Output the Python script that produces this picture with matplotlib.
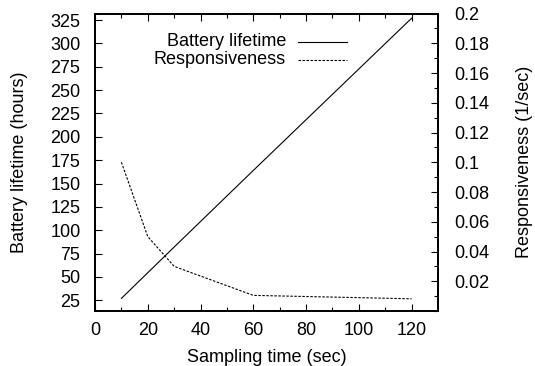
"""Battery lifetime and responsiveness vs sampling time (gnuplot-style, two y axes)."""
import matplotlib
matplotlib.use("Agg")
import matplotlib.pyplot as plt
from matplotlib.ticker import MultipleLocator

INK = "#000000"
FONT = "Liberation Sans"
FS = 13

sampling_time = [10, 20, 30, 60, 120]
battery_hours = [27, 54.5, 82, 164, 327]
responsiveness = [0.100, 0.050, 0.030, 0.0105, 0.0082]

plt.rcParams["font.family"] = [FONT, "DejaVu Sans"]
plt.rcParams["font.size"] = FS

fig = plt.figure(figsize=(5.35, 3.66), dpi=100)
ax = fig.add_axes([0.1776, 0.1503, 0.8187 - 0.1776, 0.963 - 0.1503])
ax2 = ax.twinx()

ax.plot(sampling_time, battery_hours, color=INK, linewidth=0.8)
ax2.plot(sampling_time, responsiveness, color=INK, linewidth=0.8, linestyle=(0, (2.2, 1.4)))

ax.set_xlim(0, 130)
ax.set_ylim(13.5, 332)
ax2.set_ylim(0, 0.2)

ax.xaxis.set_major_locator(MultipleLocator(20))
ax.xaxis.set_minor_locator(MultipleLocator(10))
ax.set_yticks(range(25, 326, 25))
ax2.set_yticks([0.02 * i for i in range(1, 11)])
ax2.set_yticklabels(["0.02", "0.04", "0.06", "0.08", "0.1", "0.12", "0.14", "0.16", "0.18", "0.2"])
ax2.yaxis.set_minor_locator(MultipleLocator(0.01))

ax.tick_params(axis="x", which="both", direction="in", top=True, bottom=True, pad=8, labelsize=FS)
ax.tick_params(axis="x", which="major", length=5, width=0.8)
ax.tick_params(axis="x", which="minor", length=3, width=0.8)
ax.tick_params(axis="y", which="both", direction="in", left=True, right=False, pad=10.5, length=5, width=0.8, labelsize=FS)
ax2.tick_params(axis="y", which="both", direction="in", right=True, left=False, pad=12, labelsize=FS)
ax2.tick_params(axis="y", which="major", length=5, width=0.8)
ax2.tick_params(axis="y", which="minor", length=3, width=0.8)

for a in (ax, ax2):
    for s in a.spines.values():
        s.set_linewidth(1.3)
        s.set_color(INK)

ax.set_xlabel("Sampling time (sec)", fontsize=FS, labelpad=7)
ax.set_ylabel("Battery lifetime (hours)", fontsize=FS, labelpad=16)
ax2.set_ylabel("Responsiveness (1/sec)", fontsize=FS, labelpad=19)

# gnuplot-style key: right-aligned labels, samples to their right
key_x = 0.557
key_y = [0.905, 0.845]
key_lbl = ["Battery lifetime", "Responsiveness"]
key_ls = ["-", (0, (2.2, 1.4))]
for lbl, yy, ls in zip(key_lbl, key_y, key_ls):
    ax.text(key_x, yy, lbl, transform=ax.transAxes, ha="right", va="center", fontsize=FS)
    ax.plot([0.593, 0.736], [yy, yy], transform=ax.transAxes, color=INK, linewidth=0.8, linestyle=ls)

fig.savefig("out.png", dpi=100, facecolor="white")
